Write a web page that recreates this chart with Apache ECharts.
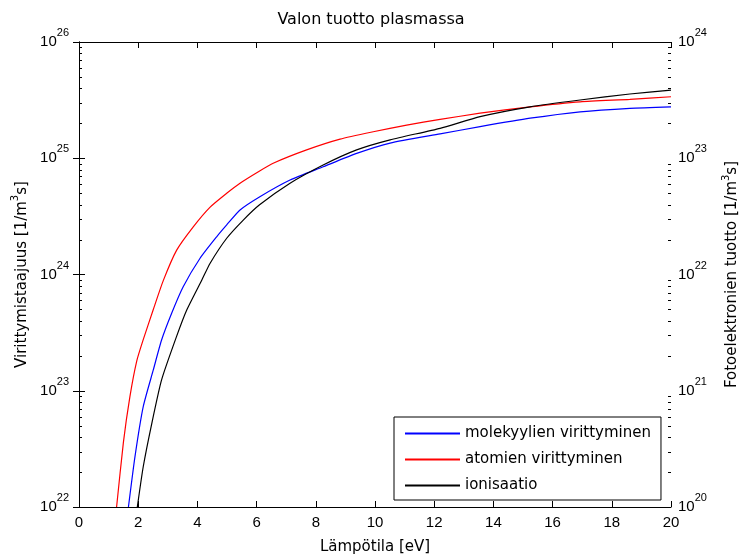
<!DOCTYPE html>
<html>
<head>
<meta charset="utf-8">
<title>Valon tuotto plasmassa</title>
<script src="https://cdn.jsdelivr.net/npm/echarts@6/dist/echarts.min.js"></script>
<style>
    html,body{margin:0;padding:0;background:#fff;}
    #chart{width:742px;height:554px;}
</style>
</head>
<body>
<div id="chart"></div>
<script>
    // lämpötila [eV] ja taajuus [1/m^3s], luettu kuvasta
    var xMolekyyli = [1.67, 1.89, 2.17, 2.51, 2.79, 3.13, 3.52, 4.09, 4.65, 4.99, 5.44, 6.11, 7.13, 8.25, 9.38, 10.51, 12.2, 13.55, 15.24, 16.93, 18.61, 20];
    var yMolekyyli = [1e22, 2.7e22, 7.3e22, 1.51e23, 2.73e23, 4.64e23, 7.85e23, 1.38e24, 2.11e24, 2.67e24, 3.59e24, 4.67e24, 6.5e24, 8.45e24, 1.10e25, 1.35e25, 1.62e25, 1.87e25, 2.21e25, 2.51e25, 2.69e25, 2.77e25];

    var xAtomi = [1.27, 1.5, 1.72, 1.95, 2.17, 2.51, 2.85, 3.3, 3.86, 4.43, 4.99, 5.44, 6.06, 6.56, 7.69, 8.82, 9.94, 11.07, 12.2, 13.55, 15.24, 16.93, 18.61, 20];
    var yAtomi = [1e22, 3.6e22, 8.9e22, 1.8e23, 2.75e23, 5.0e23, 8.9e23, 1.62e24, 2.57e24, 3.8e24, 5.0e24, 6.1e24, 7.66e24, 9.06e24, 1.18e25, 1.46e25, 1.69e25, 1.93e25, 2.16e25, 2.44e25, 2.77e25, 3.06e25, 3.21e25, 3.38e25];

    var xIoni = [1.97, 2.17, 2.46, 2.79, 3.3, 3.64, 4.15, 4.43, 4.99, 5.55, 6.09, 7.13, 8.25, 9.38, 10.51, 12.2, 13.55, 15.24, 16.93, 18.61, 20];
    var yIoni = [1e22, 2.22e22, 5.25e22, 1.24e23, 2.95e23, 4.95e23, 8.97e23, 1.25e24, 2.05e24, 2.94e24, 3.96e24, 6.1e24, 8.75e24, 1.18e25, 1.44e25, 1.81e25, 2.28e25, 2.77e25, 3.17e25, 3.57e25, 3.86e25];

    var sarjat = ['molekyylien virittyminen', 'atomien virittyminen', 'ionisaatio'];
    var varit = ['#0000ff', '#ff0000', '#000000'];

    function pareiksi(xs, ys){
        var out = [];
        for (var i = 0; i < xs.length; i++) out.push([xs[i], ys[i]]);
        return out;
    }
    function potenssi(v){
        var e = Math.round(Math.log(v) / Math.LN10);
        return '{b|10}{s|' + e + '}';
    }

    var tekstiFontti = 'DejaVu Sans';
    var numFontti = 'Liberation Sans';
    var supRich = {
        b: {fontFamily: numFontti, fontSize: 15, color: '#000'},
        s: {fontFamily: numFontti, fontSize: 11, color: '#000', padding: [0, 0, 18, 0]}
    };
    var nimiRich = {
        a: {fontFamily: tekstiFontti, fontSize: 15, color: '#000'},
        s: {fontFamily: tekstiFontti, fontSize: 10, color: '#000', padding: [0, 0, 12, 0]}
    };

    var chart = echarts.init(document.getElementById('chart'));
    var option = {
        animation: false,
        backgroundColor: '#fff',
        title: {
            text: 'Valon tuotto plasmassa',
            left: 'center',
            top: 12,
            padding: 0,
            textStyle: {fontFamily: tekstiFontti, fontSize: 16, fontWeight: 'normal', color: '#000'}
        },
        legend: {
            orient: 'vertical',
            left: 394,
            top: 417,
            data: sarjat,
            icon: 'rect',
            itemWidth: 55,
            itemHeight: 2,
            itemGap: 9,
            padding: [8, 10, 6, 11],
            borderColor: '#000',
            borderWidth: 1,
            backgroundColor: '#fff',
            textStyle: {fontFamily: tekstiFontti, fontSize: 15, lineHeight: 17, color: '#000'}
        },
        grid: {left: 79, right: 71, top: 42, bottom: 47, containLabel: false, outerBoundsMode: 'none'},
        xAxis: [
            {
                type: 'value',
                min: 0, max: 20, interval: 2,
                name: 'Lämpötila [eV]',
                nameLocation: 'middle',
                nameGap: 33,
                nameTextStyle: {fontFamily: tekstiFontti, fontSize: 15, color: '#000'},
                axisLine: {lineStyle: {color: '#000', width: 1}},
                axisTick: {inside: true, length: 6, lineStyle: {color: '#000'}},
                axisLabel: {fontFamily: numFontti, fontSize: 15, color: '#000', margin: 8},
                splitLine: {show: false}
            },
            {
                type: 'value',
                position: 'top',
                min: 0, max: 20, interval: 2,
                axisLine: {lineStyle: {color: '#000', width: 1}},
                axisTick: {inside: true, length: 6, lineStyle: {color: '#000'}},
                axisLabel: {show: false},
                splitLine: {show: false}
            }
        ],
        yAxis: [
            {
                type: 'log',
                min: 1e22, max: 1e26,
                name: '{a|Virittymistaajuus [1/m}{s|3}{a|s]}',
                nameLocation: 'middle',
                nameGap: 44,
                nameTextStyle: {rich: nimiRich},
                axisLine: {show: true, lineStyle: {color: '#000', width: 1}},
                axisTick: {inside: true, length: 6, lineStyle: {color: '#000'}},
                axisLabel: {formatter: potenssi, rich: supRich, margin: 10},
                splitLine: {show: false}
            },
            {
                type: 'log',
                min: 1e20, max: 1e24,
                position: 'right',
                name: '{a|Fotoelektronien tuotto [1/m}{s|3}{a|s]}',
                nameLocation: 'middle',
                nameGap: 50,
                nameTextStyle: {rich: nimiRich},
                axisLine: {show: true, lineStyle: {color: '#000', width: 1}},
                axisTick: {inside: true, length: 6, lineStyle: {color: '#000'}},
                axisLabel: {formatter: potenssi, rich: supRich, margin: 7},
                splitLine: {show: false}
            }
        ],
        series: [
            {name: sarjat[0], type: 'line', data: pareiksi(xMolekyyli, yMolekyyli)},
            {name: sarjat[1], type: 'line', data: pareiksi(xAtomi, yAtomi)},
            {name: sarjat[2], type: 'line', data: pareiksi(xIoni, yIoni)}
        ]
    };
    option.series.forEach(function(s, i){
        s.showSymbol = false;
        s.symbol = 'none';
        s.smooth = 0.2;
        s.clip = true;
        s.color = varit[i];
        s.lineStyle = {color: varit[i], width: 1.2};
    });
    chart.setOption(option);

    // log-akselien välimerkit (2..9 x 10^n)
    var vasen = chart.convertToPixel({xAxisIndex: 0}, 0);
    var oikea = chart.convertToPixel({xAxisIndex: 0}, 20);
    var pienet = [];
    for (var n = 22; n < 26; n++) {
        for (var k = 2; k <= 9; k++) {
            var y = Math.round(chart.convertToPixel({yAxisIndex: 0}, k * Math.pow(10, n))) + 0.5;
            pienet.push({type: 'line', shape: {x1: vasen, y1: y, x2: vasen + 3, y2: y}, style: {stroke: '#000', lineWidth: 1}});
            pienet.push({type: 'line', shape: {x1: oikea - 3, y1: y, x2: oikea, y2: y}, style: {stroke: '#000', lineWidth: 1}});
        }
    }
    chart.setOption({graphic: pienet});
    window.addEventListener('resize', chart.resize);
</script>
</body>
</html>
